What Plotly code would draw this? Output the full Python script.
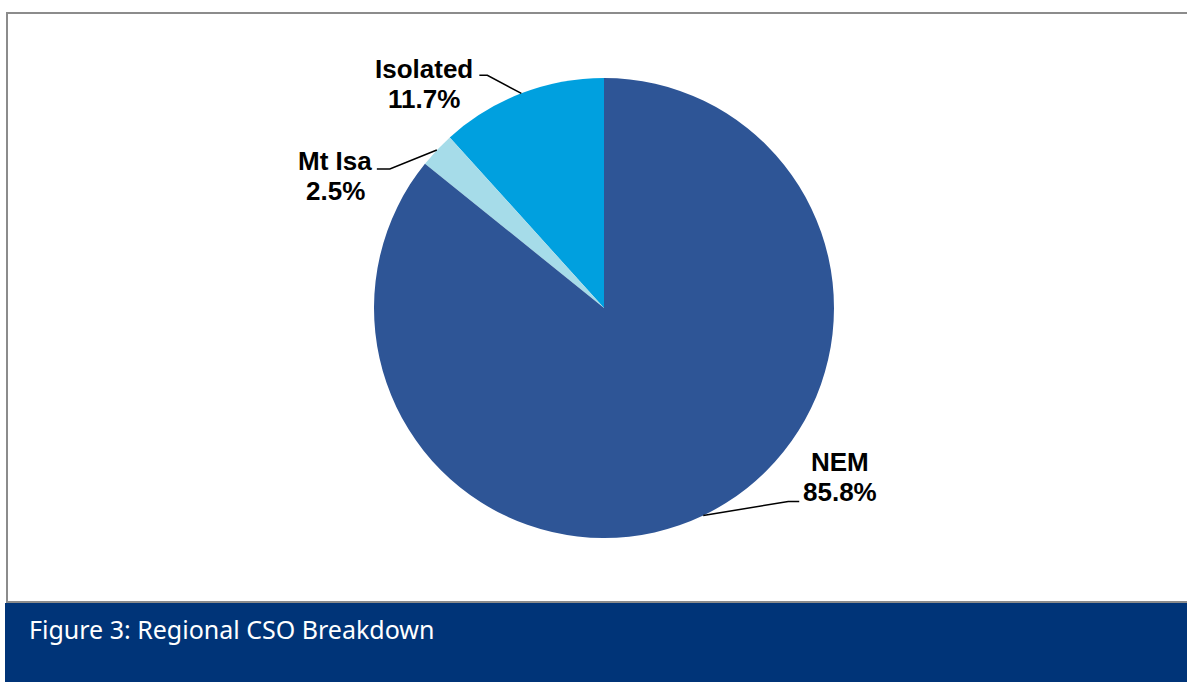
import math
import plotly.graph_objects as go

# Regional CSO shares (%)
regions = ["Isolated", "Mt Isa", "NEM"]
shares = [11.7, 2.5, 85.8]
colors = ["#00A0DF", "#A6DCE9", "#2E5596"]

W, H = 1187, 682

# pie geometry in pixels
CX, CY, R = 604, 308, 230


def px(x):
    return x / W


def py(y):
    return 1 - y / H


total = sum(shares)
# counterclockwise pies in plotly end the first slice at the rotation angle,
# so shift it back by that slice to make it start at 12 o'clock
first_sweep = shares[0] / total * 360

fig = go.Figure(
    go.Pie(
        labels=regions,
        values=shares,
        sort=False,
        direction="counterclockwise",
        rotation=-first_sweep,
        marker=dict(colors=colors, line=dict(width=0)),
        textinfo="none",
        hoverinfo="label+percent",
        showlegend=False,
        domain=dict(x=[px(CX - R), px(CX + R)], y=[py(CY + R), py(CY - R)]),
    )
)

# leader line layout per label: (elbow dx, elbow dy, horizontal tail dx, text centre x, first line centre y)
label_layout = {
    "Isolated": (-34, -18, -8, 424, 69),
    "Mt Isa": (-47, 19, -13, 335, 161),
    "NEM": (85, -14, 11, 840, 462),
}
LINE_GAP = 30
LABEL_FONT = dict(family="Liberation Sans, Arial, sans-serif", size=26, color="black")

shapes = []
annotations = []
start = 90.0
for name, val in zip(regions, shares):
    sweep = val / total * 360
    mid = math.radians(start + sweep / 2)
    start += sweep
    ex = CX + R * math.cos(mid)
    ey = CY - R * math.sin(mid)
    dx, dy, tail, tx, ty = label_layout[name]
    bx, by = ex + dx, ey + dy
    cx2 = bx + tail
    path = f"M {px(ex)} {py(ey)} L {px(bx)} {py(by)} L {px(cx2)} {py(by)}"
    shapes.append(dict(type="path", xref="paper", yref="paper", path=path,
                       line=dict(color="black", width=1.5)))
    for i, line in enumerate([name, f"{val:.1f}%"]):
        annotations.append(dict(
            x=px(tx), y=py(ty + i * LINE_GAP), xref="paper", yref="paper", showarrow=False,
            text=f"<b>{line}</b>", font=LABEL_FONT,
            xanchor="center", yanchor="middle",
        ))

# chart frame
shapes.insert(0, dict(type="rect", xref="paper", yref="paper",
                      x0=px(7), x1=px(W + 5), y0=py(602), y1=py(13),
                      line=dict(color="#8C8C8C", width=2), fillcolor="white", layer="below"))
# caption banner
shapes.append(dict(type="rect", xref="paper", yref="paper",
                   x0=px(5), x1=1, y0=0, y1=py(603),
                   line=dict(width=0), fillcolor="#003478", layer="above"))

annotations.append(dict(
    x=px(27), y=py(629), xref="paper", yref="paper", showarrow=False,
    text="Figure 3: Regional CSO Breakdown",
    font=dict(family="Noto Sans, Open Sans, sans-serif", size=25, color="white"),
    xanchor="left", yanchor="middle",
))

fig.update_layout(
    width=W, height=H,
    margin=dict(l=0, r=0, t=0, b=0),
    paper_bgcolor="white",
    plot_bgcolor="white",
    shapes=shapes,
    annotations=annotations,
)

fig.write_html("out.html")
